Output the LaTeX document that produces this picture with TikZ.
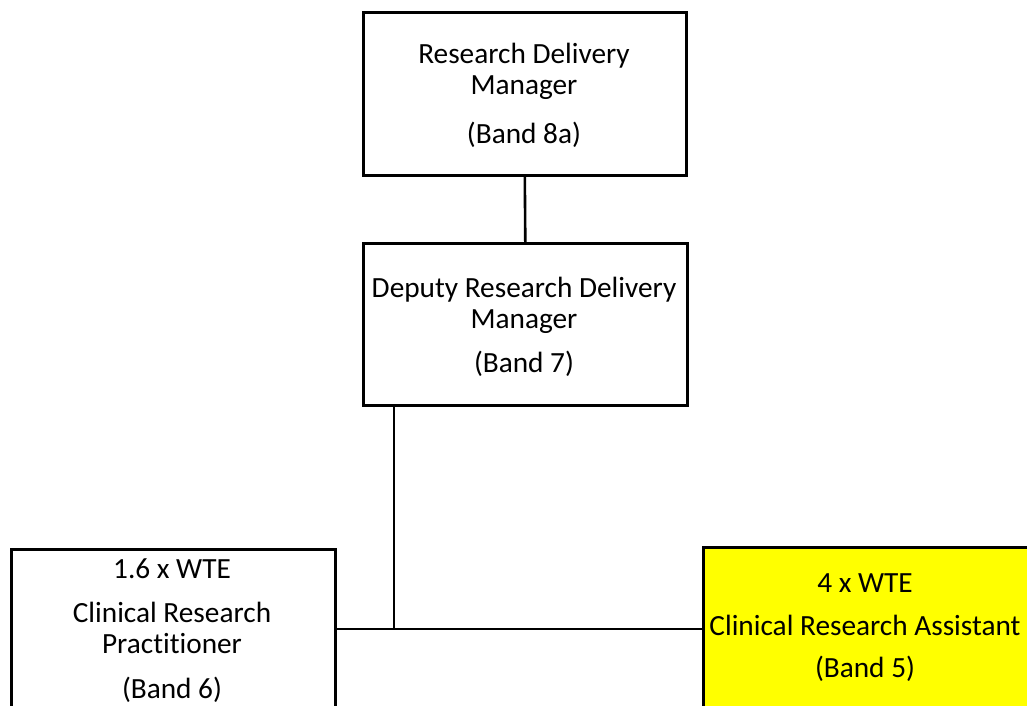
\documentclass[tikz,border=0pt]{standalone}
\usepackage{fontspec}
\setmainfont[Ligatures=NoCommon]{Carlito}
\definecolor{boxyellow}{RGB}{255,255,0}
\begin{document}
\begin{tikzpicture}[x=1pt,y=-1pt,
  box/.style={draw=black,line width=2.6pt,rectangle,inner sep=0pt,anchor=north west},
  txt/.style={anchor=base,inner sep=0pt,font=\fontsize{29.3}{32}\selectfont},
  conn/.style={draw=black,line width=2.6pt}]
\useasboundingbox (0,0) rectangle (1027,706);
\clip (0,0) rectangle (1027,706);
\node[box,minimum width=323,minimum height=163] (a) at (362,11) {};
\node[box,minimum width=324,minimum height=162] (b) at (362,242) {};
\node[box,minimum width=324,minimum height=200] (c) at (10,548) {};
\node[box,fill=boxyellow,minimum width=330,minimum height=200] (d) at (702,546) {};
% texts
\node[txt] (a1) at (524,64) {Research Delivery};
\node[txt] (a2) at (524,95) {Manager};
\node[txt] (a3) at (524,143) {(Band 8a)};
\node[txt] (b1) at (524,297) {Deputy Research Delivery};
\node[txt] (b2) at (524,328) {Manager};
\node[txt] (b3) at (524,372) {(Band 7)};
\node[txt] (c1) at (172,578) {1.6 x WTE};
\node[txt] (c2) at (172,622) {Clinical Research};
\node[txt] (c3) at (172,653) {Practitioner};
\node[txt] (c4) at (172,698) {(Band 6)};
\node[txt] (d1) at (865,592) {4 x WTE};
\node[txt] (d2) at (865,635) {Clinical Research Assistant};
\node[txt] (d3) at (865,677) {(Band 5)};
% connectors
\draw[conn] (a.south) -- (b.north);
\coordinate (j) at (394,629);
\draw[conn] (b.south -| j) -- (j);
\draw[conn] (c.east |- j) -- (d.west |- j);
\end{tikzpicture}
\end{document}
